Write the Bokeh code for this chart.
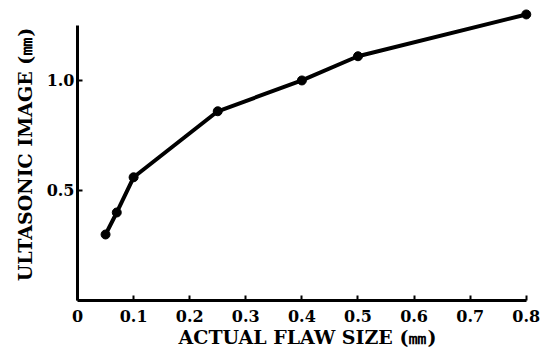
from bokeh.plotting import figure
from bokeh.models import FixedTicker, CustomJSTickFormatter, Range1d
from bokeh.embed import file_html
from bokeh.resources import INLINE

flaw_size = [0.05, 0.07, 0.10, 0.25, 0.40, 0.50, 0.80]
image_size = [0.30, 0.40, 0.56, 0.86, 1.00, 1.11, 1.30]
x_ticks = [0, 0.1, 0.2, 0.3, 0.4, 0.5, 0.6, 0.7, 0.8]
y_ticks = [0.5, 1.0]

FONT = "DejaVu Serif"

p = figure(width=548, height=354, output_backend="svg", toolbar_location=None,
           x_range=Range1d(0, 0.82), y_range=Range1d(0, 1.327),
           min_border_left=77, min_border_right=11, min_border_top=8, min_border_bottom=54)
p.outline_line_color = None
p.grid.visible = False

p.line(flaw_size, image_size, line_color="black", line_width=4)
p.scatter(flaw_size, image_size, size=9, fill_color="black", line_color="black")

xa = p.xaxis[0]
xa.bounds = (0, 0.8)
xa.ticker = FixedTicker(ticks=x_ticks)
xa.formatter = CustomJSTickFormatter(code="return tick == 0 ? '0' : tick.toFixed(1);")
xa.axis_label = "ACTUAL FLAW SIZE (㎜)"
xa.major_label_standoff = 9
xa.axis_label_standoff = 1

ya = p.yaxis[0]
ya.bounds = (0, 1.25)
ya.ticker = FixedTicker(ticks=y_ticks)
ya.formatter = CustomJSTickFormatter(code="return tick.toFixed(1);")
ya.axis_label = "ULTASONIC IMAGE (㎜)"
ya.major_label_standoff = 3
ya.axis_label_standoff = 8

for ax in (xa, ya):
    ax.major_tick_in = 5
    ax.major_tick_out = 0
    ax.minor_tick_line_color = None
    ax.axis_line_width = 3
    ax.axis_line_color = "black"
    ax.major_tick_line_width = 2
    ax.major_tick_line_color = "black"
    ax.major_label_text_font = FONT
    ax.major_label_text_font_style = "bold"
    ax.major_label_text_font_size = "16px"
    ax.major_label_text_color = "black"
    ax.axis_label_text_font = FONT
    ax.axis_label_text_font_style = "bold"
    ax.axis_label_text_font_size = "19px"
    ax.axis_label_text_color = "black"

open("out.html", "w").write(file_html(p, INLINE))
